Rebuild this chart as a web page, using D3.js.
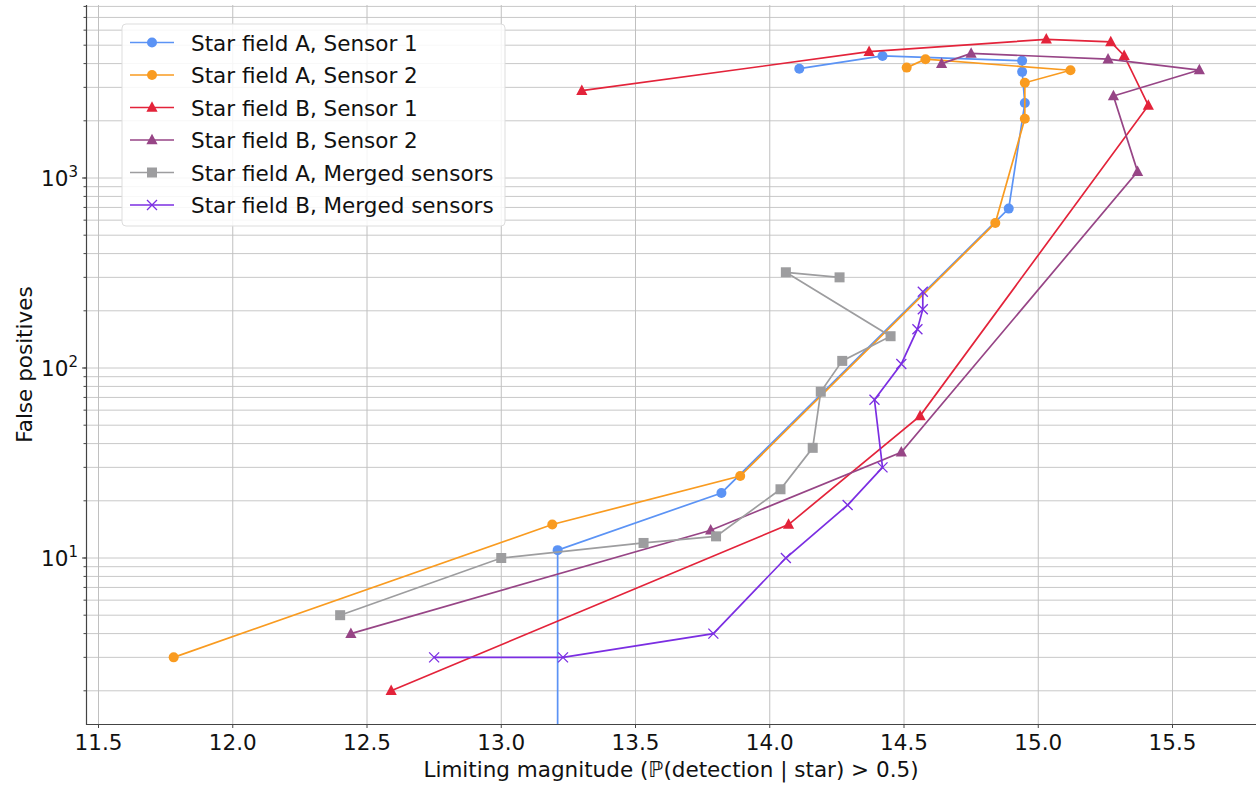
<!DOCTYPE html>
<html>
<head>
<meta charset="utf-8">
<script src="https://cdn.jsdelivr.net/npm/d3@7"></script>
<style>
  body { margin: 0; background: #fff; }
  svg text { font-family: "DejaVu Sans", sans-serif; fill: #111; }
</style>
</head>
<body>
<div id="chart"></div>
<script>
/*
    DATA
*/
let seriesNames = [
    "Star field A, Sensor 1",
    "Star field A, Sensor 2",
    "Star field B, Sensor 1",
    "Star field B, Sensor 2",
    "Star field A, Merged sensors",
    "Star field B, Merged sensors"
];

// limiting magnitude / false positives, in drawing order
let aS1Mag = [13.21, 13.21, 13.82, 14.89, 14.95, 14.94, 14.94, 14.42, 14.11];
let aS1Fp  = [0, 11, 22, 690, 2480, 3620, 4140, 4390, 3760];

let aS2Mag = [11.78, 13.19, 13.89, 14.84, 14.95, 14.95, 15.12, 14.58, 14.51];
let aS2Fp  = [3, 15, 27, 580, 2050, 3170, 3690, 4220, 3810];

let bS1Mag = [12.59, 14.07, 14.56, 15.41, 15.32, 15.27, 15.03, 14.37, 13.30];
let bS1Fp  = [2, 15, 56, 2410, 4400, 5200, 5370, 4620, 2880];

let bS2Mag = [12.44, 13.78, 14.49, 15.37, 15.28, 15.60, 15.26, 14.75, 14.64];
let bS2Fp  = [4, 14, 36, 1080, 2700, 3700, 4220, 4530, 4000];

let aMMag = [12.40, 13.00, 13.53, 13.80, 14.04, 14.16, 14.19, 14.27, 14.45, 14.06, 14.26];
let aMFp  = [5, 10, 12, 13, 23, 38, 75, 109, 147, 319, 300];

let bMMag = [12.75, 13.23, 13.79, 14.06, 14.29, 14.42, 14.39, 14.49, 14.55, 14.57, 14.57];
let bMFp  = [3, 3, 4, 10, 19, 30, 68, 105, 160, 204, 252];

let xTicks = [11.5, 12.0, 12.5, 13.0, 13.5, 14.0, 14.5, 15.0, 15.5];
let yTicks = [10, 100, 1000];

/*
    CONSTANTS
*/
let WIDTH = 1256, HEIGHT = 788;
let PLOT = { left: 86, right: 1256, top: 5, bottom: 724 };
let COLORS = ["#5b93f5", "#f99b20", "#e3233a", "#974586", "#9d9d9f", "#7b2ee2"];
let MARKERS = ["circle", "circle", "triangle", "triangle", "square", "x"];

let series = [
    [aS1Mag, aS1Fp], [aS2Mag, aS2Fp], [bS1Mag, bS1Fp],
    [bS2Mag, bS2Fp], [aMMag, aMFp], [bMMag, bMFp]
].map((s, i) => ({
    name: seriesNames[i],
    color: COLORS[i],
    marker: MARKERS[i],
    points: s[0].map((m, j) => ({ x: m, y: s[1][j] }))
}));

var svg = d3.select("#chart").append("svg")
    .attr("width", WIDTH)
    .attr("height", HEIGHT);

var x = d3.scaleLinear().domain([11.5, 15.5]).range([98.5, 1172.5]);
var y = d3.scaleLog().domain([10, 1000]).range([558, 178]);
var yPos = v => v > 0 ? y(v) : HEIGHT + 100; // zero counts fall off the bottom

svg.append("clipPath").attr("id", "plotClip")
    .append("rect")
    .attr("x", PLOT.left).attr("y", PLOT.top)
    .attr("width", PLOT.right - PLOT.left).attr("height", PLOT.bottom - PLOT.top);

/*
    GRID
*/
var minorVals = [];
for (var e = 0; e <= 3; e++) {
    for (var k = 1; k <= 9; k++) {
        var v = k * Math.pow(10, e);
        if (y(v) >= PLOT.top && y(v) <= PLOT.bottom) minorVals.push(v);
    }
}
var grid = svg.append("g");
grid.selectAll("line.h")
    .data(minorVals)
    .enter().append("line")
    .attr("x1", PLOT.left).attr("x2", PLOT.right)
    .attr("y1", d => y(d)).attr("y2", d => y(d))
    .style("stroke", "#c8c8c8")
    .style("stroke-width", "1px");
grid.selectAll("line.v")
    .data(xTicks)
    .enter().append("line")
    .attr("x1", d => x(d)).attr("x2", d => x(d))
    .attr("y1", PLOT.top).attr("y2", PLOT.bottom)
    .style("stroke", "#c0c0c0")
    .style("stroke-width", "1px");

/*
    SERIES
*/
var line = d3.line().x(d => x(d.x)).y(d => yPos(d.y));
var plot = svg.append("g").attr("clip-path", "url(#plotClip)");

function drawMarker(g, type, color) {
    if (type === "circle") {
        g.append("circle").attr("r", 5).attr("fill", color);
    } else if (type === "triangle") {
        g.append("path").attr("d", "M0,-6.2L5.6,4.3L-5.6,4.3Z").attr("fill", color);
    } else if (type === "square") {
        g.append("rect").attr("x", -5).attr("y", -5).attr("width", 10).attr("height", 10).attr("fill", color);
    } else {
        g.append("path").attr("d", "M-5,-5L5,5M-5,5L5,-5")
            .attr("stroke", color).attr("stroke-width", 1.3).attr("fill", "none");
    }
}

series.forEach(s => {
    var g = plot.append("g");
    g.append("path")
        .datum(s.points)
        .attr("d", line)
        .attr("fill", "none")
        .attr("stroke", s.color)
        .attr("stroke-width", 1.7);
    g.selectAll("g.mk")
        .data(s.points.filter(p => p.y > 0))
        .enter().append("g")
        .attr("transform", d => `translate(${x(d.x)},${y(d.y)})`)
        .each(function () { drawMarker(d3.select(this), s.marker, s.color); });
});

/*
    AXES
*/
var axisG = svg.append("g");
axisG.append("line")
    .attr("x1", PLOT.left).attr("x2", PLOT.right)
    .attr("y1", PLOT.bottom + 0.5).attr("y2", PLOT.bottom + 0.5)
    .style("stroke", "#444").style("stroke-width", "1.2px");
axisG.append("line")
    .attr("x1", PLOT.left + 0.5).attr("x2", PLOT.left + 0.5)
    .attr("y1", PLOT.top).attr("y2", PLOT.bottom + 1)
    .style("stroke", "#444").style("stroke-width", "1.2px");

axisG.selectAll("line.xt")
    .data(xTicks).enter().append("line")
    .attr("x1", d => x(d)).attr("x2", d => x(d))
    .attr("y1", PLOT.bottom).attr("y2", PLOT.bottom + 4)
    .style("stroke", "#444");
axisG.selectAll("text.xt")
    .data(xTicks).enter().append("text")
    .attr("x", d => x(d)).attr("y", 750)
    .attr("text-anchor", "middle")
    .style("font-size", "21.5px")
    .text(d => d.toFixed(1));

axisG.selectAll("line.ym")
    .data(minorVals).enter().append("line")
    .attr("x1", PLOT.left - 2.5).attr("x2", PLOT.left)
    .attr("y1", d => y(d)).attr("y2", d => y(d))
    .style("stroke", "#444");
axisG.selectAll("line.yt")
    .data(yTicks).enter().append("line")
    .attr("x1", PLOT.left - 4).attr("x2", PLOT.left)
    .attr("y1", d => y(d)).attr("y2", d => y(d))
    .style("stroke", "#444");
var yLab = axisG.selectAll("text.yt")
    .data(yTicks).enter().append("text")
    .attr("x", 78).attr("y", d => y(d) + 8)
    .attr("text-anchor", "end")
    .style("font-size", "21.5px");
yLab.append("tspan").text("10");
yLab.append("tspan")
    .attr("dy", "-9")
    .style("font-size", "15px")
    .text(d => Math.round(Math.log10(d)));

svg.append("text")
    .attr("x", (PLOT.left + PLOT.right) / 2).attr("y", 777)
    .attr("text-anchor", "middle")
    .style("font-size", "21.5px")
    .text("Limiting magnitude (\u2119(detection | star) > 0.5)");
svg.append("text")
    .attr("transform", `translate(32,${(PLOT.top + PLOT.bottom) / 2}) rotate(-90)`)
    .attr("text-anchor", "middle")
    .style("font-size", "21.5px")
    .text("False positives");

/*
    LEGEND
*/
var legend = svg.append("g").attr("transform", "translate(122,24)");
legend.append("rect")
    .attr("width", 383).attr("height", 202).attr("rx", 4)
    .attr("fill", "#fff").attr("fill-opacity", 0.85)
    .attr("stroke", "#ddd");
series.forEach((s, i) => {
    var row = legend.append("g").attr("transform", `translate(0,${18.5 + i * 32.5})`);
    row.append("line")
        .attr("x1", 8).attr("x2", 52)
        .attr("stroke", s.color).attr("stroke-width", 1.7);
    drawMarker(row.append("g").attr("transform", "translate(30,0)"), s.marker, s.color);
    row.append("text")
        .attr("x", 69).attr("y", 8)
        .style("font-size", "21.5px")
        .text(s.name);
});
</script>
</body>
</html>
